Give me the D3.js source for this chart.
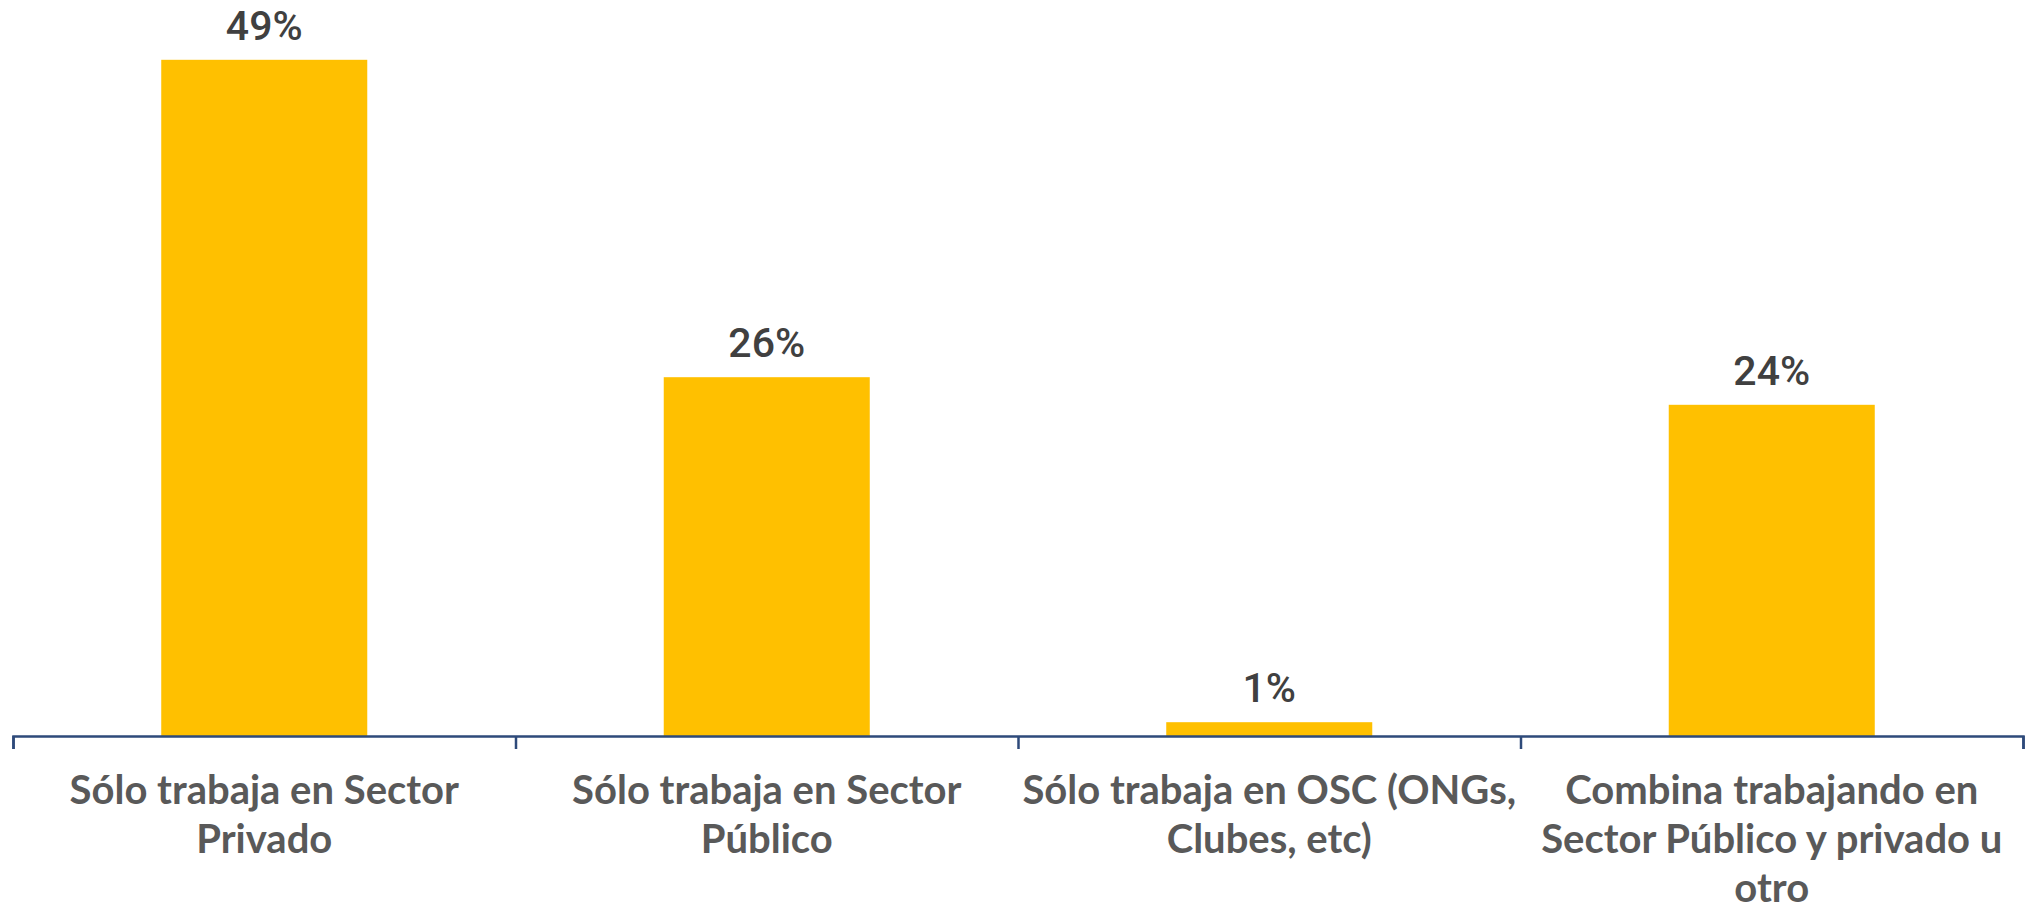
<!DOCTYPE html>
<html>
<head>
<meta charset="utf-8">
<script src="https://cdn.jsdelivr.net/npm/d3@7"></script>
<style>
  html, body { margin: 0; padding: 0; background: #fff; }
  .valueText { font-family: Roboto, "DejaVu Sans", sans-serif; font-weight: 500; font-size: 41px; fill: #404040; }
  .catText { font-family: Lato, "Open Sans", sans-serif; font-weight: bold; font-size: 40px; fill: #595959; }
</style>
</head>
<body>
<div id="chart"></div>
<script>
var categories = [
    "Sólo trabaja en Sector Privado",
    "Sólo trabaja en Sector Público",
    "Sólo trabaja en OSC (ONGs, Clubes, etc)",
    "Combina trabajando en Sector Público y privado u otro"
];
// line breaks as they appear in the picture
var categoryLines = [
    ["Sólo trabaja en Sector", "Privado"],
    ["Sólo trabaja en Sector", "Público"],
    ["Sólo trabaja en OSC (ONGs,", "Clubes, etc)"],
    ["Combina trabajando en", "Sector Público y privado u", "otro"]
];
var values = [0.49, 0.26, 0.01, 0.24];

var width = 2030;
var height = 913;
var axisY = 736;
var left = 13, right = 2023;

var svg = d3.select("#chart")
    .append("svg")
    .attr("width", width)
    .attr("height", height);

var x = d3.scaleBand()
    .domain(categories)
    .range([left, right])
    .padding(0);

var y = d3.scaleLinear()
    .domain([0, 0.5])
    .range([axisY, 46]);

var barWidth = x.bandwidth() * 0.41;

// bars
svg.append("g").selectAll("rect")
    .data(values)
    .enter()
    .append("rect")
    .attr("x", (d, i) => x(categories[i]) + (x.bandwidth() - barWidth) / 2)
    .attr("y", d => y(d))
    .attr("width", barWidth)
    .attr("height", d => axisY - y(d))
    .attr("fill", "#FFC000");

// value labels
var pct = d3.format(".0%");
svg.append("g").selectAll("text")
    .data(values)
    .enter()
    .append("text")
    .attr("class", "valueText")
    .attr("x", (d, i) => x(categories[i]) + x.bandwidth() / 2)
    .attr("y", d => y(d) - 20)
    .attr("text-anchor", "middle")
    .text(d => pct(d));

// axis line with ticks on the category borders
var edges = d3.scaleLinear().domain([0, categories.length]).range([left, right]);
var xAxis = svg.append("g")
    .attr("transform", `translate(0, ${axisY})`)
    .call(d3.axisBottom(edges)
        .ticks(categories.length)
        .tickFormat("")
        .tickSize(13)
        .tickSizeOuter(13));
xAxis.selectAll("path, line")
    .attr("stroke", "#2E4A7A")
    .attr("stroke-width", 2.5);

// category labels
var lineGap = 49;
var firstLine = 804;
var catG = svg.append("g").selectAll("text")
    .data(categories)
    .enter()
    .append("text")
    .attr("class", "catText")
    .attr("text-anchor", "middle")
    .attr("x", d => x(d) + x.bandwidth() / 2)
    .attr("y", firstLine);

catG.each(function(d, i) {
    var t = d3.select(this);
    categoryLines[i].forEach(function(line, j) {
        t.append("tspan")
            .attr("x", x(d) + x.bandwidth() / 2)
            .attr("y", firstLine + j * lineGap)
            .text(line);
    });
});
</script>
</body>
</html>
